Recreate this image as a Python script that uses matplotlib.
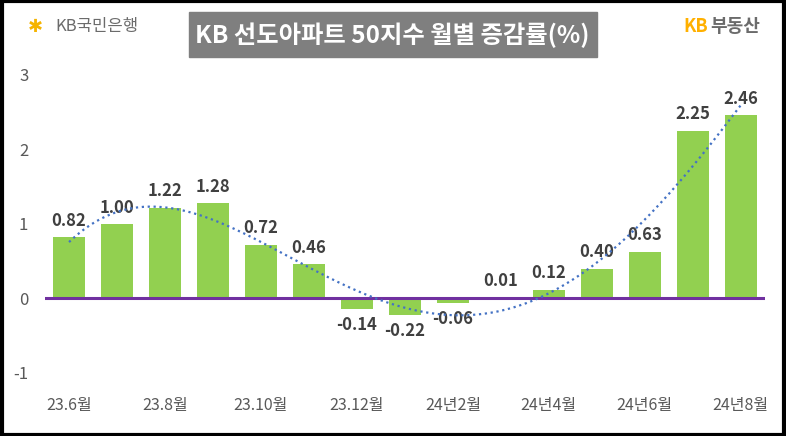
import matplotlib
matplotlib.use("Agg")
import matplotlib.pyplot as plt
from matplotlib.patches import Rectangle
import numpy as np

plt.rcParams['font.family'] = ['Noto Sans CJK KR', 'DejaVu Sans']

months = ['23.6월', '23.7월', '23.8월', '23.9월', '23.10월', '23.11월', '23.12월',
          '24년1월', '24년2월', '24년3월', '24년4월', '24년5월', '24년6월', '24년7월', '24년8월']
values = [0.82, 1.00, 1.22, 1.28, 0.72, 0.46, -0.14, -0.22, -0.06, 0.01, 0.12, 0.40, 0.63, 2.25, 2.46]
yticks = [-1, 0, 1, 2, 3]

fig = plt.figure(figsize=(7.86, 4.36), dpi=100)
ax = fig.add_axes([0.0573, 0.1445, 0.9157, 0.6835])

x = np.arange(len(values))
ax.bar(x, values, width=0.67, color='#92D050', zorder=2)
ax.axhline(0, color='#7030A0', lw=2.2, zorder=3)

# trend line (polynomial fit, like Excel)
coef = np.polyfit(x, values, 4)
xs = np.linspace(0, len(values) - 1, 200)
ax.plot(xs, np.polyval(coef, xs), ls=':', color='#4472C4', lw=1.6, zorder=4)

for i, v in enumerate(values):
    if v >= 0:
        ax.text(i, v + 0.1, f'{v:.2f}', ha='center', va='bottom', fontsize=12,
                fontweight='bold', color='#404040')
    else:
        ax.text(i, v - 0.1, f'{v:.2f}', ha='center', va='top', fontsize=12,
                fontweight='bold', color='#404040')

ax.set_xlim(-0.5, len(values) - 0.5)
ax.set_ylim(-1, 3)
ax.set_yticks(yticks)
ax.set_yticklabels([str(t) for t in yticks], fontsize=12, color='#595959')
ax.set_xticks(x[::2])
ax.set_xticklabels(months[::2], fontsize=11.5, color='#595959', fontweight='medium')
ax.tick_params(length=0)
ax.tick_params(axis='x', pad=17)
ax.tick_params(axis='y', pad=12)
for s in ax.spines.values():
    s.set_visible(False)

# title box
fig.patches.append(Rectangle((189 / 786, 1 - 57 / 436), 408 / 786, 45 / 436,
                             transform=fig.transFigure, color='#7F7F7F', zorder=0))
fig.text(392 / 786, 1 - 35 / 436, 'KB 선도아파트 50지수 월별 증감률(%)', ha='center', va='center',
         fontsize=17.5, fontweight='bold', color='white')

# logos
fig.text(28 / 786, 1 - 27 / 436, '✱', ha='left', va='center', fontsize=13,
         color='#F5B400', family=['DejaVu Sans'])
fig.text(55 / 786, 1 - 27 / 436, 'KB국민은행', ha='left', va='center', fontsize=12,
         color='#6B6B6B')
fig.text(683 / 786, 1 - 27 / 436, 'KB', ha='left', va='center', fontsize=13,
         fontweight='bold', color='#FFB000')
fig.text(710 / 786, 1 - 27 / 436, '부동산', ha='left', va='center', fontsize=13,
         fontweight='bold', color='#6B6B6B')

# outer border
fig.patches.append(Rectangle((0.002, 0.003), 0.996, 0.994, transform=fig.transFigure,
                             fill=False, edgecolor='black', lw=3))

fig.savefig('out.png', dpi=100)
